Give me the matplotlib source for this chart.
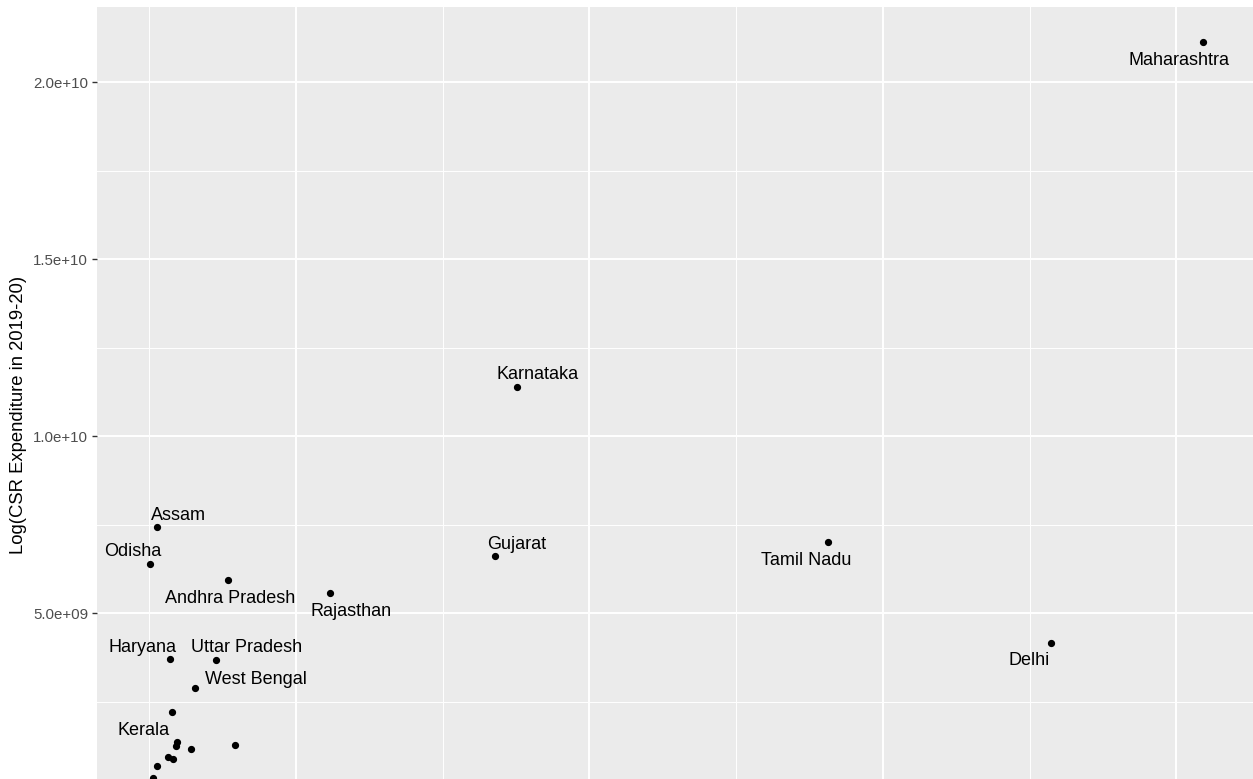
import matplotlib.pyplot as plt

plt.rcParams['font.family'] = ['Liberation Sans', 'DejaVu Sans']

# states (x = unlabelled measure, y = CSR expenditure 2019-20)
states = ["Maharashtra", "Karnataka", "Gujarat", "Tamil Nadu", "Delhi",
          "Assam", "Odisha", "Andhra Pradesh", "Rajasthan", "Haryana",
          "Uttar Pradesh", "West Bengal", "Kerala",
          "", "", "", "", "", "", "", ""]
x_vals = [4092, 1753, 1678, 2814, 3574,
          526, 502, 768, 1116, 570,
          727, 656, 591,
          578, 595, 643, 793, 565, 582, 526, 513]
csr = [2.113e10, 1.138e10, 6.61e9, 7.00e9, 4.15e9,
       7.43e9, 6.38e9, 5.93e9, 5.56e9, 3.70e9,
       3.67e9, 2.88e9, 1.251e9,
       2.195e9, 1.364e9, 1.150e9, 1.263e9, 9.41e8, 8.67e8, 6.78e8, 3.47e8]

# label nudges in pixels (repel-like placement)
nudges = [(-24, -18), (21, 13), (22, 12), (-22, -18), (-22, -17),
          (21, 12), (-17, 13), (2, -18), (21, -18), (-27, 12),
          (31, 13), (61, 9), (-33, 15)]


def main():
    fig = plt.figure(figsize=(12.53, 7.79), dpi=100)
    # panel runs past the bottom/right edge of the picture (cropped look)
    ax = fig.add_axes([97 / 1253, -37 / 779, 1159 / 1253, 809 / 779])
    ax.set_facecolor("#EBEBEB")
    for s in ax.spines.values():
        s.set_visible(False)

    ax.set_xlim(321.5, 4272)
    ax.set_ylim(-7.3e8, 2.212e10)

    ax.set_xticks([1000, 2000, 3000, 4000])
    ax.set_xticks([500, 1500, 2500, 3500], minor=True)
    ax.set_yticks([5e9, 1e10, 1.5e10, 2e10])
    ax.set_yticklabels(["5.0e+09", "1.0e+10", "1.5e+10", "2.0e+10"])
    ax.set_yticks([2.5e9, 7.5e9, 1.25e10, 1.75e10], minor=True)
    ax.grid(which="major", color="white", linewidth=1.4)
    ax.grid(which="minor", color="white", linewidth=0.7)
    ax.set_axisbelow(True)
    ax.tick_params(axis="y", which="major", length=3.5, width=1, color="#333333",
                   labelcolor="#4D4D4D", labelsize=10.8, pad=3)
    ax.tick_params(which="minor", length=0)
    ax.tick_params(axis="x", labelbottom=False, length=0)

    ax.plot(x_vals, csr, "o", color="black", markersize=4.2, zorder=3)

    for name, xv, yv, (dx, dy) in zip(states, x_vals, csr, nudges):
        if name:
            ax.annotate(name, (xv, yv), xytext=(dx, dy), textcoords="offset pixels",
                        ha="center", va="center", fontsize=13, color="black")

    ax.set_ylabel("Log(CSR Expenditure in 2019-20)", fontsize=13.3, labelpad=8)
    ax.yaxis.set_label_coords(-0.060, (779 - 415 - (-37)) / 809)

    fig.savefig("out.png", dpi=100)


if __name__ == "__main__":
    main()
